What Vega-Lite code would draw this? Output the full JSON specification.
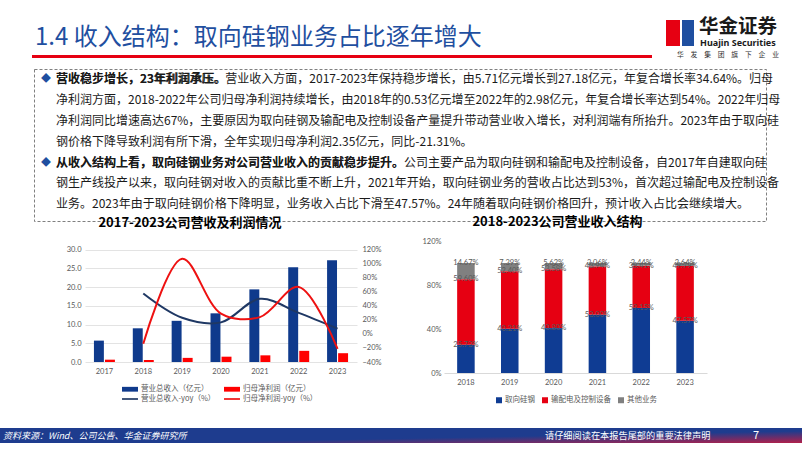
{
  "$schema": "https://vega.github.io/schema/vega-lite/v6.json",
  "padding": 0,
  "background": "white",
  "spacing": 0,
  "config": {
    "view": {"stroke": null},
    "font": "Noto Sans CJK SC",
    "concat": {"spacing": 0},
    "legend": {"layout": {"bottom": {"anchor": "middle"}}}
  },
  "resolve": {"scale": {"color": "independent"}, "legend": {"color": "independent"}},
  "vconcat": [
    {
      "width": 802,
      "height": 63,
      "data": {"values": [{"title": "1.4 收入结构：取向硅钢业务占比逐年增大", "cn": "华金证券", "en": "Huajin Securities", "group": "华　发　集　团　旗　下　企　业"}]},
      "layer": [
        {"mark": {"type": "rect", "color": "#e60012"}, "encoding": {"x": {"value": 32}, "x2": {"value": 652}, "y": {"value": 55}, "y2": {"value": 58}}},
        {"mark": {"type": "text", "align": "left", "baseline": "middle", "fontSize": 24, "color": "#1f4fa0"}, "encoding": {"x": {"value": 35}, "y": {"value": 38}, "text": {"field": "title"}}},
        {"mark": {"type": "rect", "color": "#e60012"}, "encoding": {"x": {"value": 666}, "x2": {"value": 680}, "y": {"value": 20}, "y2": {"value": 46}}},
        {"mark": {"type": "rect", "color": "#1f4fa0"}, "encoding": {"x": {"value": 682}, "x2": {"value": 694}, "y": {"value": 20}, "y2": {"value": 46}}},
        {"mark": {"type": "text", "align": "left", "baseline": "middle", "fontSize": 19.5, "fontWeight": "bold", "color": "#1a1a1a"}, "encoding": {"x": {"value": 699}, "y": {"value": 27}, "text": {"field": "cn"}}},
        {"mark": {"type": "text", "align": "left", "baseline": "middle", "fontSize": 9, "fontWeight": "bold", "color": "#1a1a1a", "font": "Noto Sans"}, "encoding": {"x": {"value": 700}, "y": {"value": 43}, "text": {"field": "en"}}},
        {"mark": {"type": "text", "align": "left", "baseline": "middle", "fontSize": 6.8, "color": "#333333"}, "encoding": {"x": {"value": 677}, "y": {"value": 55}, "text": {"field": "group"}}}
      ]
    },
    {
      "spacing": -6,
      "resolve": {"scale": {"color": "independent"}, "legend": {"color": "independent"}},
      "vconcat": [
        {
          "hconcat": [
            {"width": 33, "height": 1, "data": {"values": [{}]}, "mark": {"type": "text"}, "encoding": {"text": {"value": ""}}},
            {
              "width": 732,
              "height": 152,
              "view": {"stroke": "#808080", "strokeDash": [3, 2], "strokeWidth": 1, "fill": "white"},
              "data": {"values": [
                {"line": 1, "text": "营收稳步增长，23年利润承压。营业收入方面，2017-2023年保持稳步增长，由5.71亿元增长到27.18亿元，年复合增长率34.64%。归母", "bold": "营收稳步增长，23年利润承压。"},
                {"line": 2, "text": "净利润方面，2018-2022年公司归母净利润持续增长，由2018年的0.53亿元增至2022年的2.98亿元，年复合增长率达到54%。2022年归母"},
                {"line": 3, "text": "净利润同比增速高达67%，主要原因为取向硅钢及输配电及控制设备产量提升带动营业收入增长，对利润端有所抬升。2023年由于取向硅"},
                {"line": 4, "text": "钢价格下降导致利润有所下滑，全年实现归母净利润2.35亿元，同比-21.31%。"},
                {"line": 5, "text": "从收入结构上看，取向硅钢业务对公司营业收入的贡献稳步提升。公司主要产品为取向硅钢和输配电及控制设备，自2017年自建取向硅", "bold": "从收入结构上看，取向硅钢业务对公司营业收入的贡献稳步提升。"},
                {"line": 6, "text": "钢生产线投产以来，取向硅钢对收入的贡献比重不断上升，2021年开始，取向硅钢业务的营收占比达到53%，首次超过输配电及控制设备"},
                {"line": 7, "text": "业务。2023年由于取向硅钢价格下降明显，业务收入占比下滑至47.57%。24年随着取向硅钢价格回升，预计收入占比会继续增大。"}
              ]},
              "encoding": {
                "y": {"field": "line", "type": "quantitative", "scale": {"domain": [0.5055, 7.803], "reverse": true, "nice": false, "zero": false}, "axis": null}
              },
              "layer": [
                {"mark": {"type": "text", "align": "left", "baseline": "middle", "fontSize": 12, "color": "#1a1a1a"}, "encoding": {"x": {"value": 22}, "text": {"field": "text"}}},
                {"transform": [{"filter": "datum.bold"}], "mark": {"type": "text", "align": "left", "baseline": "middle", "fontSize": 12, "fontWeight": "bold", "color": "#1a1a1a"}, "encoding": {"x": {"value": 22}, "text": {"field": "bold"}}},
                {"transform": [{"filter": "datum.bold"}], "mark": {"type": "text", "align": "center", "baseline": "middle", "fontSize": 10, "color": "#1f4fa0", "text": "◆"}, "encoding": {"x": {"value": 12}}}
              ]
            }
          ]
        },
        {
          "resolve": {"scale": {"color": "independent"}, "legend": {"color": "independent"}},
          "hconcat": [
            {"width": 66, "height": 1, "data": {"values": [{}]}, "mark": {"type": "text"}, "encoding": {"text": {"value": ""}}},
            {
              "width": 272,
              "height": 121,
              "title": {"text": "2017-2023公司营收及利润情况", "fontSize": 13, "fontWeight": "bold", "color": "#000000", "dx": -31, "offset": 11},
              "layer": [
                {
                  "data": {"values": [
                    {"year": "2017", "series": "营业总收入（亿元）", "value": 5.71},
                    {"year": "2018", "series": "营业总收入（亿元）", "value": 9.0},
                    {"year": "2019", "series": "营业总收入（亿元）", "value": 11.0},
                    {"year": "2020", "series": "营业总收入（亿元）", "value": 13.0},
                    {"year": "2021", "series": "营业总收入（亿元）", "value": 19.4},
                    {"year": "2022", "series": "营业总收入（亿元）", "value": 25.3},
                    {"year": "2023", "series": "营业总收入（亿元）", "value": 27.18},
                    {"year": "2017", "series": "归母净利润（亿元）", "value": 0.62},
                    {"year": "2018", "series": "归母净利润（亿元）", "value": 0.53},
                    {"year": "2019", "series": "归母净利润（亿元）", "value": 1.1},
                    {"year": "2020", "series": "归母净利润（亿元）", "value": 1.42},
                    {"year": "2021", "series": "归母净利润（亿元）", "value": 1.78},
                    {"year": "2022", "series": "归母净利润（亿元）", "value": 2.98},
                    {"year": "2023", "series": "归母净利润（亿元）", "value": 2.35}
                  ]},
                  "mark": {"type": "bar"},
                  "encoding": {
                    "x": {"field": "year", "type": "nominal", "scale": {"paddingInner": 0.46, "paddingOuter": 0.23}, "axis": {"title": null, "labelAngle": 0, "ticks": false, "domain": false, "labelFontSize": 7.5, "labelColor": "#595959", "labelFont": "Lato", "labelPadding": 5}},
                    "xOffset": {"field": "series", "type": "nominal", "scale": {"domain": ["营业总收入（亿元）", "归母净利润（亿元）"], "paddingInner": 0.1}},
                    "y": {"field": "value", "type": "quantitative", "scale": {"domain": [0, 32.32], "nice": false}, "axis": {"title": null, "values": [0, 5, 10, 15, 20, 25, 30], "format": ".1f", "grid": true, "gridColor": "#d9d9d9", "gridWidth": 0.75, "ticks": false, "domain": false, "labelFontSize": 7.5, "labelColor": "#595959", "labelFont": "Lato", "labelPadding": 4}},
                    "color": {"field": "series", "type": "nominal",
                      "scale": {"domain": ["营业总收入（亿元）", "归母净利润（亿元）", "营业总收入-yoy（%）", "归母净利润-yoy（%）"], "range": ["#0f3a8c", "#ff0000", "#1f3864", "#ee1111"]},
                      "legend": {"orient": "bottom", "title": null, "columns": 2, "direction": "horizontal", "symbolType": "M-1.33,-0.4H1.33V0.4H-1.33Z", "symbolSize": 144, "labelFontSize": 7.5, "labelColor": "#595959", "labelOffset": 5, "columnPadding": 8, "rowPadding": 0, "offset": 8, "labelLimit": 200,
                        "encode": {"symbols": {"update": {
                          "shape": {"signal": "indexof(datum.value,'yoy')>=0 ? 'M-1.33,-0.14H1.33V0.14H-1.33Z' : 'M-1.33,-0.4H1.33V0.4H-1.33Z'"},
                          "fill": {"signal": "datum.value=='营业总收入（亿元）' ? '#0f3a8c' : datum.value=='归母净利润（亿元）' ? '#ff0000' : datum.value=='营业总收入-yoy（%）' ? '#1f3864' : '#ee1111'"},
                          "stroke": {"value": "transparent"},
                          "strokeWidth": {"value": 0},
                          "opacity": {"value": 1}
                        }}}
                      }
                    }
                  }
                },
                {
                  "data": {"values": [
                    {"year": "2018", "series": "营业总收入-yoy（%）", "value": 0.576},
                    {"year": "2019", "series": "营业总收入-yoy（%）", "value": 0.23},
                    {"year": "2020", "series": "营业总收入-yoy（%）", "value": 0.165},
                    {"year": "2021", "series": "营业总收入-yoy（%）", "value": 0.5},
                    {"year": "2022", "series": "营业总收入-yoy（%）", "value": 0.3},
                    {"year": "2023", "series": "营业总收入-yoy（%）", "value": 0.076},
                    {"year": "2018", "series": "归母净利润-yoy（%）", "value": -0.14},
                    {"year": "2019", "series": "归母净利润-yoy（%）", "value": 1.07},
                    {"year": "2020", "series": "归母净利润-yoy（%）", "value": 0.29},
                    {"year": "2021", "series": "归母净利润-yoy（%）", "value": 0.24},
                    {"year": "2022", "series": "归母净利润-yoy（%）", "value": 0.67},
                    {"year": "2023", "series": "归母净利润-yoy（%）", "value": -0.2131}
                  ]},
                  "mark": {"type": "line", "interpolate": "catmull-rom", "strokeWidth": 2},
                  "encoding": {
                    "x": {"field": "year", "type": "nominal"},
                    "y": {"field": "value", "type": "quantitative", "scale": {"domain": [-0.4, 1.3245], "nice": false, "zero": false}, "axis": {"orient": "right", "title": null, "values": [-0.4, -0.2, 0, 0.2, 0.4, 0.6, 0.8, 1.0, 1.2], "format": "%", "grid": false, "ticks": false, "domain": false, "labelFontSize": 7.5, "labelColor": "#595959", "labelFont": "Lato", "labelPadding": 5}},
                    "color": {"field": "series", "type": "nominal",
                      "scale": {"domain": ["营业总收入（亿元）", "归母净利润（亿元）", "营业总收入-yoy（%）", "归母净利润-yoy（%）"], "range": ["#0f3a8c", "#ff0000", "#1f3864", "#ee1111"]}
                    }
                  }
                }
              ],
              "resolve": {"scale": {"y": "independent"}}
            },
            {"width": 39, "height": 1, "data": {"values": [{}]}, "mark": {"type": "text"}, "encoding": {"text": {"value": ""}}},
            {
              "width": 263,
              "height": 132,
              "title": {"text": "2018-2023公司营业收入结构", "fontSize": 13, "fontWeight": "bold", "color": "#000000", "dx": -18, "offset": 8},
              "data": {"values": [
                {"year": "2018", "segment": "取向硅钢", "pct": 0.2573},
                {"year": "2018", "segment": "输配电及控制设备", "pct": 0.5960},
                {"year": "2018", "segment": "其他业务", "pct": 0.1467},
                {"year": "2019", "segment": "取向硅钢", "pct": 0.4021},
                {"year": "2019", "segment": "输配电及控制设备", "pct": 0.5240},
                {"year": "2019", "segment": "其他业务", "pct": 0.0739},
                {"year": "2020", "segment": "取向硅钢", "pct": 0.4080},
                {"year": "2020", "segment": "输配电及控制设备", "pct": 0.5358},
                {"year": "2020", "segment": "其他业务", "pct": 0.0562},
                {"year": "2021", "segment": "取向硅钢", "pct": 0.5300},
                {"year": "2021", "segment": "输配电及控制设备", "pct": 0.4394},
                {"year": "2021", "segment": "其他业务", "pct": 0.0306},
                {"year": "2022", "segment": "取向硅钢", "pct": 0.5915},
                {"year": "2022", "segment": "输配电及控制设备", "pct": 0.3841},
                {"year": "2022", "segment": "其他业务", "pct": 0.0244},
                {"year": "2023", "segment": "取向硅钢", "pct": 0.4757},
                {"year": "2023", "segment": "输配电及控制设备", "pct": 0.4979},
                {"year": "2023", "segment": "其他业务", "pct": 0.0264}
              ]},
              "transform": [{"stack": "pct", "groupby": ["year"], "as": ["y0", "y1"]}],
              "layer": [
                {
                  "mark": {"type": "bar"},
                  "encoding": {
                    "x": {"field": "year", "type": "nominal", "scale": {"paddingInner": 0.6, "paddingOuter": 0.3}, "axis": {"title": null, "labelAngle": 0, "ticks": false, "domain": true, "domainColor": "#d9d9d9", "labelFontSize": 7.5, "labelColor": "#595959", "labelFont": "Lato", "labelPadding": 5}},
                    "y": {"field": "y1", "type": "quantitative", "scale": {"domain": [0, 1.2], "nice": false}, "axis": {"title": null, "values": [0, 0.2, 0.4, 0.6, 0.8, 1.0, 1.2], "format": "%", "grid": false, "ticks": false, "domain": false, "labelFontSize": 7.5, "labelColor": "#595959", "labelFont": "Lato", "labelPadding": 3}},
                    "y2": {"field": "y0"},
                    "color": {"field": "segment", "type": "nominal",
                      "scale": {"domain": ["取向硅钢", "输配电及控制设备", "其他业务"], "range": ["#0f3c93", "#e60012", "#808080"]},
                      "legend": {"orient": "bottom", "title": null, "direction": "horizontal", "symbolType": "square", "symbolSize": 36, "labelFontSize": 7.5, "labelColor": "#595959", "labelOffset": 2, "columnPadding": 6, "offset": 10}
                    }
                  }
                },
                {
                  "mark": {"type": "text", "fontSize": 7.5, "font": "Lato", "color": "#595959", "baseline": "middle"},
                  "encoding": {
                    "x": {"field": "year", "type": "nominal"},
                    "y": {"field": "y1", "type": "quantitative"},
                    "yOffset": {"field": "pct", "type": "quantitative", "scale": {"domain": [0, 1.2], "range": [0, 66]}},
                    "text": {"field": "pct", "type": "quantitative", "format": ".2%"}
                  }
                }
              ]
            }
          ]
        }
      ]
    },
    {"width": 1, "height": 24, "data": {"values": [{}]}, "mark": {"type": "text"}, "encoding": {"text": {"value": ""}}},
    {
      "width": 802,
      "height": 15,
      "data": {"values": [{"src": "资料来源：Wind、公司公告、华金证券研究所", "note": "请仔细阅读在本报告尾部的重要法律声明", "page": "7"}]},
      "layer": [
        {"mark": {"type": "rect", "color": {"gradient": "linear", "x1": 0, "y1": 0, "x2": 1, "y2": 1, "stops": [{"offset": 0, "color": "#1e3c8e"}, {"offset": 0.6, "color": "#1e3c8e"}, {"offset": 1, "color": "#b3204a"}]}}, "encoding": {}},
        {"mark": {"type": "text", "align": "left", "baseline": "middle", "fontSize": 9, "fontStyle": "italic", "color": "white"}, "encoding": {"x": {"value": 3}, "y": {"value": 7.5}, "text": {"field": "src"}}},
        {"mark": {"type": "text", "align": "left", "baseline": "middle", "fontSize": 9.2, "color": "white"}, "encoding": {"x": {"value": 545}, "y": {"value": 7.5}, "text": {"field": "note"}}},
        {"mark": {"type": "text", "align": "center", "baseline": "middle", "fontSize": 11, "color": "white"}, "encoding": {"x": {"value": 756}, "y": {"value": 7.5}, "text": {"field": "page"}}}
      ]
    }
  ]
}
